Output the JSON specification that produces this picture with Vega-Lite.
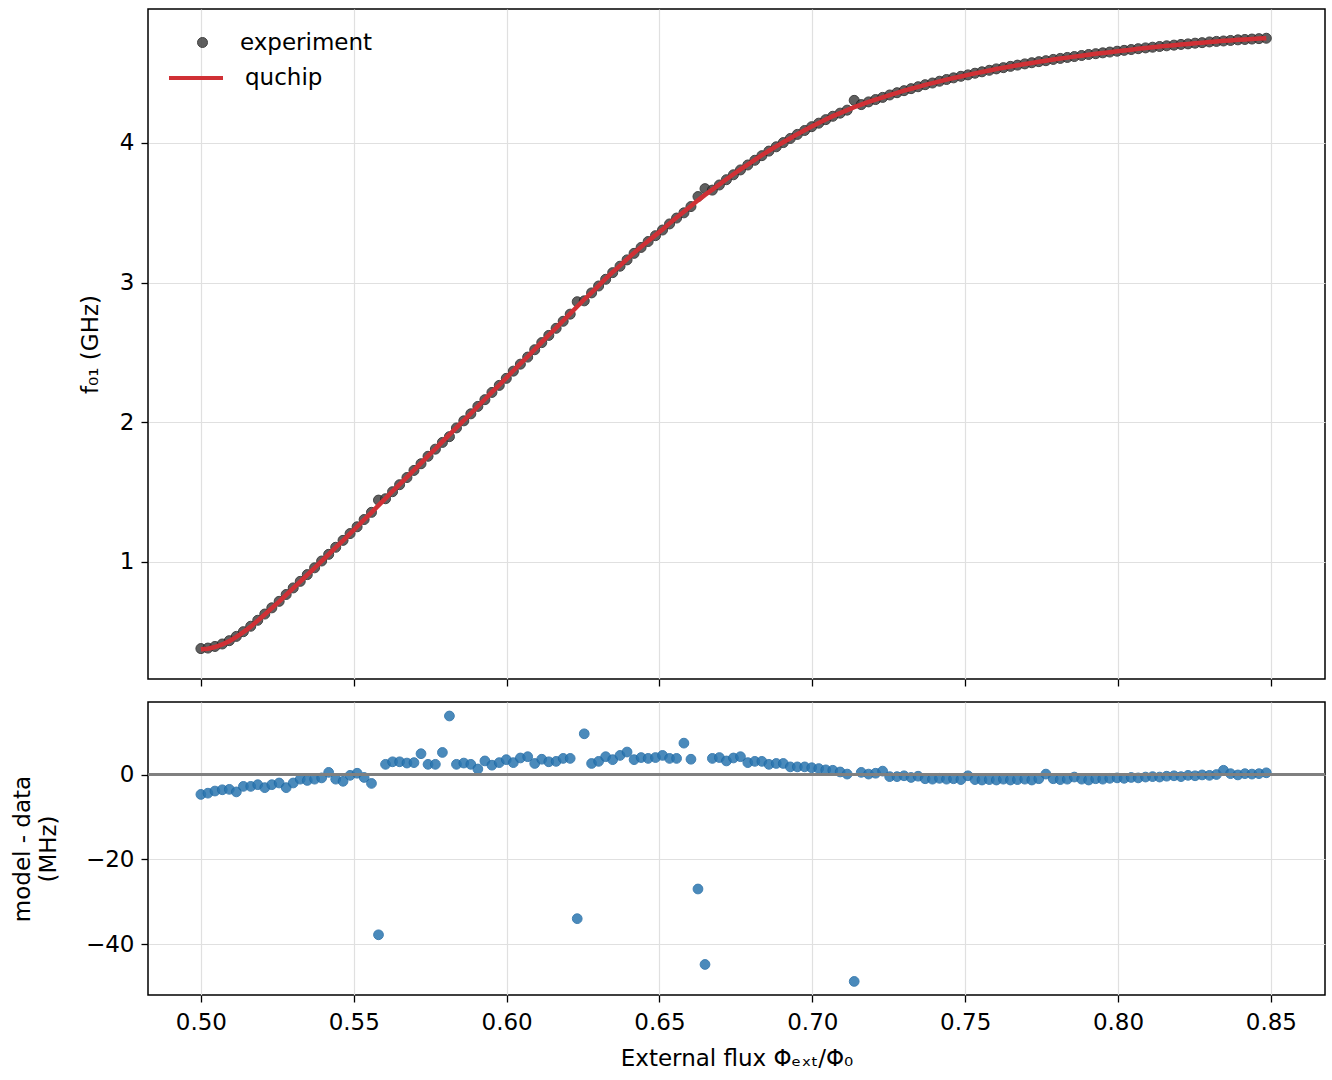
{
  "$schema": "https://vega.github.io/schema/vega-lite/v6.json",
  "padding": {"left": 10, "top": 8, "right": 0, "bottom": 0},
  "background": "white",
  "spacing": 13,
  "datasets": {
    "pts": [
      {"flux": 0.5000, "model": 0.375, "exp": 0.3797, "resid": -4.7},
      {"flux": 0.5023, "model": 0.379, "exp": 0.3834, "resid": -4.4},
      {"flux": 0.5046, "model": 0.391, "exp": 0.3949, "resid": -3.9},
      {"flux": 0.5070, "model": 0.409, "exp": 0.4126, "resid": -3.6},
      {"flux": 0.5093, "model": 0.433, "exp": 0.4365, "resid": -3.5},
      {"flux": 0.5116, "model": 0.463, "exp": 0.4671, "resid": -4.1},
      {"flux": 0.5139, "model": 0.498, "exp": 0.5008, "resid": -2.8},
      {"flux": 0.5163, "model": 0.537, "exp": 0.5398, "resid": -2.8},
      {"flux": 0.5186, "model": 0.580, "exp": 0.5824, "resid": -2.4},
      {"flux": 0.5209, "model": 0.624, "exp": 0.6271, "resid": -3.1},
      {"flux": 0.5232, "model": 0.669, "exp": 0.6714, "resid": -2.4},
      {"flux": 0.5256, "model": 0.716, "exp": 0.7180, "resid": -2.0},
      {"flux": 0.5279, "model": 0.764, "exp": 0.7671, "resid": -3.1},
      {"flux": 0.5302, "model": 0.812, "exp": 0.8140, "resid": -2.0},
      {"flux": 0.5325, "model": 0.860, "exp": 0.8611, "resid": -1.1},
      {"flux": 0.5348, "model": 0.908, "exp": 0.9094, "resid": -1.4},
      {"flux": 0.5372, "model": 0.957, "exp": 0.9581, "resid": -1.1},
      {"flux": 0.5395, "model": 1.006, "exp": 1.0068, "resid": -0.8},
      {"flux": 0.5418, "model": 1.055, "exp": 1.0545, "resid": 0.5},
      {"flux": 0.5441, "model": 1.104, "exp": 1.1051, "resid": -1.1},
      {"flux": 0.5465, "model": 1.153, "exp": 1.1546, "resid": -1.6},
      {"flux": 0.5488, "model": 1.203, "exp": 1.2032, "resid": -0.2},
      {"flux": 0.5511, "model": 1.252, "exp": 1.2517, "resid": 0.3},
      {"flux": 0.5534, "model": 1.303, "exp": 1.3037, "resid": -0.7},
      {"flux": 0.5558, "model": 1.353, "exp": 1.3551, "resid": -2.1},
      {"flux": 0.5581, "model": 1.405, "exp": 1.4428, "resid": -37.8},
      {"flux": 0.5604, "model": 1.455, "exp": 1.4526, "resid": 2.4},
      {"flux": 0.5627, "model": 1.506, "exp": 1.5030, "resid": 3.0},
      {"flux": 0.5650, "model": 1.556, "exp": 1.5530, "resid": 3.0},
      {"flux": 0.5674, "model": 1.607, "exp": 1.6043, "resid": 2.7},
      {"flux": 0.5697, "model": 1.658, "exp": 1.6552, "resid": 2.8},
      {"flux": 0.5720, "model": 1.708, "exp": 1.7031, "resid": 4.9},
      {"flux": 0.5743, "model": 1.759, "exp": 1.7566, "resid": 2.4},
      {"flux": 0.5767, "model": 1.810, "exp": 1.8076, "resid": 2.4},
      {"flux": 0.5790, "model": 1.861, "exp": 1.8558, "resid": 5.2},
      {"flux": 0.5813, "model": 1.911, "exp": 1.8972, "resid": 13.8},
      {"flux": 0.5836, "model": 1.962, "exp": 1.9596, "resid": 2.4},
      {"flux": 0.5860, "model": 2.013, "exp": 2.0103, "resid": 2.7},
      {"flux": 0.5883, "model": 2.063, "exp": 2.0606, "resid": 2.4},
      {"flux": 0.5906, "model": 2.115, "exp": 2.1137, "resid": 1.3},
      {"flux": 0.5929, "model": 2.165, "exp": 2.1618, "resid": 3.2},
      {"flux": 0.5952, "model": 2.216, "exp": 2.2138, "resid": 2.2},
      {"flux": 0.5976, "model": 2.267, "exp": 2.2642, "resid": 2.8},
      {"flux": 0.5999, "model": 2.318, "exp": 2.3145, "resid": 3.5},
      {"flux": 0.6022, "model": 2.369, "exp": 2.3662, "resid": 2.8},
      {"flux": 0.6045, "model": 2.420, "exp": 2.4161, "resid": 3.9},
      {"flux": 0.6069, "model": 2.471, "exp": 2.4668, "resid": 4.2},
      {"flux": 0.6092, "model": 2.522, "exp": 2.5194, "resid": 2.6},
      {"flux": 0.6115, "model": 2.574, "exp": 2.5704, "resid": 3.6},
      {"flux": 0.6138, "model": 2.625, "exp": 2.6220, "resid": 3.0},
      {"flux": 0.6162, "model": 2.676, "exp": 2.6729, "resid": 3.1},
      {"flux": 0.6185, "model": 2.727, "exp": 2.7232, "resid": 3.8},
      {"flux": 0.6208, "model": 2.778, "exp": 2.7742, "resid": 3.8},
      {"flux": 0.6231, "model": 2.829, "exp": 2.8630, "resid": -34.0},
      {"flux": 0.6254, "model": 2.879, "exp": 2.8694, "resid": 9.6},
      {"flux": 0.6278, "model": 2.929, "exp": 2.9264, "resid": 2.6},
      {"flux": 0.6301, "model": 2.979, "exp": 2.9759, "resid": 3.1},
      {"flux": 0.6324, "model": 3.028, "exp": 3.0238, "resid": 4.2},
      {"flux": 0.6347, "model": 3.075, "exp": 3.0715, "resid": 3.5},
      {"flux": 0.6371, "model": 3.122, "exp": 3.1175, "resid": 4.5},
      {"flux": 0.6394, "model": 3.168, "exp": 3.1627, "resid": 5.3},
      {"flux": 0.6417, "model": 3.213, "exp": 3.2095, "resid": 3.5},
      {"flux": 0.6440, "model": 3.256, "exp": 3.2520, "resid": 4.0},
      {"flux": 0.6463, "model": 3.298, "exp": 3.2942, "resid": 3.8},
      {"flux": 0.6487, "model": 3.340, "exp": 3.3360, "resid": 4.0},
      {"flux": 0.6510, "model": 3.381, "exp": 3.3765, "resid": 4.5},
      {"flux": 0.6533, "model": 3.424, "exp": 3.4202, "resid": 3.8},
      {"flux": 0.6556, "model": 3.466, "exp": 3.4622, "resid": 3.8},
      {"flux": 0.6580, "model": 3.507, "exp": 3.4996, "resid": 7.4},
      {"flux": 0.6603, "model": 3.548, "exp": 3.5444, "resid": 3.6},
      {"flux": 0.6626, "model": 3.589, "exp": 3.6160, "resid": -27.0},
      {"flux": 0.6649, "model": 3.628, "exp": 3.6728, "resid": -44.8},
      {"flux": 0.6673, "model": 3.666, "exp": 3.6622, "resid": 3.8},
      {"flux": 0.6696, "model": 3.703, "exp": 3.6990, "resid": 4.0},
      {"flux": 0.6719, "model": 3.740, "exp": 3.7368, "resid": 3.2},
      {"flux": 0.6742, "model": 3.776, "exp": 3.7721, "resid": 3.9},
      {"flux": 0.6765, "model": 3.811, "exp": 3.8068, "resid": 4.2},
      {"flux": 0.6789, "model": 3.845, "exp": 3.8422, "resid": 2.8},
      {"flux": 0.6812, "model": 3.879, "exp": 3.8759, "resid": 3.1},
      {"flux": 0.6835, "model": 3.912, "exp": 3.9089, "resid": 3.1},
      {"flux": 0.6858, "model": 3.944, "exp": 3.9416, "resid": 2.4},
      {"flux": 0.6882, "model": 3.975, "exp": 3.9724, "resid": 2.6},
      {"flux": 0.6905, "model": 4.005, "exp": 4.0024, "resid": 2.6},
      {"flux": 0.6928, "model": 4.034, "exp": 4.0322, "resid": 1.8},
      {"flux": 0.6951, "model": 4.063, "exp": 4.0612, "resid": 1.8},
      {"flux": 0.6975, "model": 4.091, "exp": 4.0892, "resid": 1.8},
      {"flux": 0.6998, "model": 4.118, "exp": 4.1164, "resid": 1.6},
      {"flux": 0.7021, "model": 4.143, "exp": 4.1416, "resid": 1.4},
      {"flux": 0.7044, "model": 4.168, "exp": 4.1669, "resid": 1.1},
      {"flux": 0.7067, "model": 4.192, "exp": 4.1910, "resid": 1.0},
      {"flux": 0.7091, "model": 4.214, "exp": 4.2134, "resid": 0.6},
      {"flux": 0.7114, "model": 4.235, "exp": 4.2349, "resid": 0.1},
      {"flux": 0.7137, "model": 4.256, "exp": 4.3048, "resid": -48.8},
      {"flux": 0.7160, "model": 4.275, "exp": 4.2745, "resid": 0.5},
      {"flux": 0.7184, "model": 4.294, "exp": 4.2939, "resid": 0.1},
      {"flux": 0.7207, "model": 4.311, "exp": 4.3107, "resid": 0.3},
      {"flux": 0.7230, "model": 4.327, "exp": 4.3262, "resid": 0.8},
      {"flux": 0.7253, "model": 4.343, "exp": 4.3435, "resid": -0.5},
      {"flux": 0.7277, "model": 4.359, "exp": 4.3595, "resid": -0.5},
      {"flux": 0.7300, "model": 4.374, "exp": 4.3743, "resid": -0.3},
      {"flux": 0.7323, "model": 4.388, "exp": 4.3887, "resid": -0.7},
      {"flux": 0.7346, "model": 4.402, "exp": 4.4024, "resid": -0.4},
      {"flux": 0.7369, "model": 4.416, "exp": 4.4170, "resid": -1.0},
      {"flux": 0.7393, "model": 4.428, "exp": 4.4291, "resid": -1.1},
      {"flux": 0.7416, "model": 4.441, "exp": 4.4419, "resid": -0.9},
      {"flux": 0.7439, "model": 4.453, "exp": 4.4541, "resid": -1.1},
      {"flux": 0.7462, "model": 4.465, "exp": 4.4660, "resid": -1.0},
      {"flux": 0.7486, "model": 4.476, "exp": 4.4772, "resid": -1.2},
      {"flux": 0.7509, "model": 4.487, "exp": 4.4873, "resid": -0.3},
      {"flux": 0.7532, "model": 4.498, "exp": 4.4992, "resid": -1.2},
      {"flux": 0.7555, "model": 4.508, "exp": 4.5093, "resid": -1.3},
      {"flux": 0.7579, "model": 4.519, "exp": 4.5202, "resid": -1.2},
      {"flux": 0.7602, "model": 4.529, "exp": 4.5303, "resid": -1.3},
      {"flux": 0.7625, "model": 4.538, "exp": 4.5391, "resid": -1.1},
      {"flux": 0.7648, "model": 4.547, "exp": 4.5483, "resid": -1.3},
      {"flux": 0.7671, "model": 4.556, "exp": 4.5572, "resid": -1.2},
      {"flux": 0.7695, "model": 4.565, "exp": 4.5661, "resid": -1.1},
      {"flux": 0.7718, "model": 4.573, "exp": 4.5743, "resid": -1.3},
      {"flux": 0.7741, "model": 4.581, "exp": 4.5820, "resid": -1.0},
      {"flux": 0.7764, "model": 4.589, "exp": 4.5889, "resid": 0.1},
      {"flux": 0.7788, "model": 4.597, "exp": 4.5980, "resid": -1.0},
      {"flux": 0.7811, "model": 4.604, "exp": 4.6052, "resid": -1.2},
      {"flux": 0.7834, "model": 4.611, "exp": 4.6121, "resid": -1.1},
      {"flux": 0.7857, "model": 4.618, "exp": 4.6186, "resid": -0.6},
      {"flux": 0.7881, "model": 4.625, "exp": 4.6261, "resid": -1.1},
      {"flux": 0.7904, "model": 4.632, "exp": 4.6333, "resid": -1.3},
      {"flux": 0.7927, "model": 4.638, "exp": 4.6390, "resid": -1.0},
      {"flux": 0.7950, "model": 4.644, "exp": 4.6451, "resid": -1.1},
      {"flux": 0.7973, "model": 4.650, "exp": 4.6509, "resid": -0.9},
      {"flux": 0.7997, "model": 4.656, "exp": 4.6568, "resid": -0.8},
      {"flux": 0.8020, "model": 4.662, "exp": 4.6629, "resid": -0.9},
      {"flux": 0.8043, "model": 4.668, "exp": 4.6687, "resid": -0.7},
      {"flux": 0.8066, "model": 4.674, "exp": 4.6748, "resid": -0.8},
      {"flux": 0.8090, "model": 4.680, "exp": 4.6806, "resid": -0.6},
      {"flux": 0.8113, "model": 4.685, "exp": 4.6855, "resid": -0.5},
      {"flux": 0.8136, "model": 4.690, "exp": 4.6906, "resid": -0.6},
      {"flux": 0.8159, "model": 4.695, "exp": 4.6954, "resid": -0.4},
      {"flux": 0.8183, "model": 4.700, "exp": 4.7003, "resid": -0.3},
      {"flux": 0.8206, "model": 4.705, "exp": 4.7055, "resid": -0.5},
      {"flux": 0.8229, "model": 4.709, "exp": 4.7092, "resid": -0.2},
      {"flux": 0.8252, "model": 4.714, "exp": 4.7143, "resid": -0.3},
      {"flux": 0.8275, "model": 4.718, "exp": 4.7181, "resid": -0.1},
      {"flux": 0.8299, "model": 4.723, "exp": 4.7232, "resid": -0.2},
      {"flux": 0.8322, "model": 4.727, "exp": 4.7270, "resid": 0.0},
      {"flux": 0.8345, "model": 4.731, "exp": 4.7300, "resid": 1.0},
      {"flux": 0.8368, "model": 4.734, "exp": 4.7338, "resid": 0.2},
      {"flux": 0.8392, "model": 4.738, "exp": 4.7381, "resid": -0.1},
      {"flux": 0.8415, "model": 4.741, "exp": 4.7408, "resid": 0.2},
      {"flux": 0.8438, "model": 4.744, "exp": 4.7439, "resid": 0.1},
      {"flux": 0.8461, "model": 4.747, "exp": 4.7468, "resid": 0.2},
      {"flux": 0.8485, "model": 4.750, "exp": 4.7496, "resid": 0.4}
    ]
  },
  "vconcat": [
    {
      "width": 1177,
      "height": 670,
      "data": {"name": "pts"},
      "layer": [
        {
          "mark": {"type": "circle", "size": 100, "opacity": 0.85, "stroke": "#222222", "strokeWidth": 1},
          "encoding": {
            "x": {
              "field": "flux",
              "type": "quantitative",
              "scale": {"domain": [0.4827, 0.8677], "nice": false, "zero": false},
              "axis": {
                "values": [0.5, 0.55, 0.6, 0.65, 0.7, 0.75, 0.8, 0.85],
                "labels": false,
                "title": null
              }
            },
            "y": {
              "field": "exp",
              "type": "quantitative",
              "scale": {"domain": [0.162, 4.959], "nice": false, "zero": false},
              "axis": {
                "values": [1, 2, 3, 4],
                "format": "d",
                "title": "f₀₁ (GHz)",
                "minExtent": 40,
                "maxExtent": 40,
                "titlePadding": 6
              }
            },
            "fill": {
              "datum": "experiment",
              "scale": {"domain": ["experiment"], "range": ["#444444"]},
              "legend": {
                "orient": "none",
                "legendX": 43,
                "legendY": 22,
                "title": null,
                "padding": 0,
                "symbolType": "circle",
                "symbolSize": 100,
                "symbolOpacity": 0.85,
                "symbolStrokeColor": "#222222",
                "symbolStrokeWidth": 1,
                "labelOffset": 26
              }
            }
          }
        },
        {
          "mark": {"type": "line", "strokeWidth": 4.5},
          "encoding": {
            "x": {"field": "flux", "type": "quantitative"},
            "y": {"field": "model", "type": "quantitative"},
            "stroke": {
              "datum": "quchip",
              "scale": {"domain": ["quchip"], "range": ["#d03035"]},
              "legend": {
                "orient": "none",
                "legendX": 19,
                "legendY": 40,
                "title": null,
                "padding": 0,
                "symbolType": "stroke",
                "symbolSize": 2916,
                "symbolStrokeWidth": 4,
                "labelOffset": 20
              }
            }
          }
        }
      ]
    },
    {
      "width": 1177,
      "height": 293,
      "data": {"name": "pts"},
      "layer": [
        {
          "mark": {"type": "circle", "size": 95, "opacity": 0.85, "stroke": "#1f6aa5", "strokeWidth": 1},
          "encoding": {
            "x": {
              "field": "flux",
              "type": "quantitative",
              "scale": {"domain": [0.4827, 0.8677], "nice": false, "zero": false},
              "axis": {
                "values": [0.5, 0.55, 0.6, 0.65, 0.7, 0.75, 0.8, 0.85],
                "format": ".2f",
                "title": "External flux Φₑₓₜ/Φ₀",
                "labelPadding": 9,
                "titlePadding": 13
              }
            },
            "y": {
              "field": "resid",
              "type": "quantitative",
              "scale": {"domain": [-52.0, 17.1], "nice": false, "zero": false},
              "axis": {
                "values": [-40, -20, 0],
                "title": ["model - data", "(MHz)"],
                "titleLineHeight": 26,
                "minExtent": 40,
                "maxExtent": 40,
                "titlePadding": 48
              }
            },
            "color": {"value": "#2b76b0"}
          }
        },
        {
          "mark": {"type": "rule", "color": "#808080", "strokeWidth": 2},
          "encoding": {"y": {"datum": 0}}
        }
      ]
    }
  ],
  "config": {
    "font": "DejaVu Sans",
    "view": {"stroke": "#000000", "strokeWidth": 1.5},
    "axis": {
      "domain": false,
      "grid": true,
      "gridColor": "#e0e0e0",
      "gridWidth": 1.2,
      "tickColor": "#000000",
      "tickWidth": 1.3,
      "tickSize": 7,
      "labelPadding": 7,
      "labelFont": "DejaVu Sans",
      "labelFontSize": 23,
      "labelColor": "#000000",
      "titleFont": "DejaVu Sans",
      "titleFontSize": 23,
      "titleFontWeight": "normal",
      "titleColor": "#000000"
    },
    "legend": {
      "labelFont": "DejaVu Sans",
      "labelFontSize": 23,
      "labelColor": "#000000"
    }
  }
}
